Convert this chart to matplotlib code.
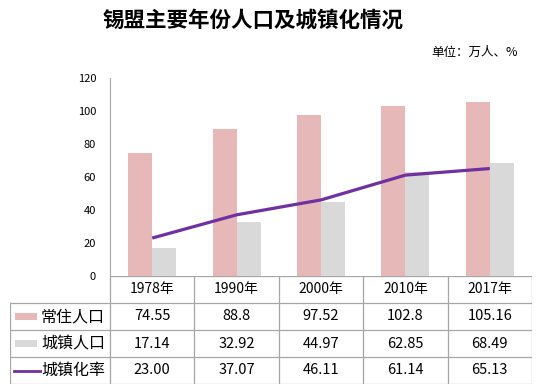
import matplotlib
matplotlib.use("Agg")
import matplotlib.pyplot as plt

plt.rcParams['font.family'] = ['Noto Sans CJK SC', 'DejaVu Sans']

years = ["1978年", "1990年", "2000年", "2010年", "2017年"]
resident = [74.55, 88.8, 97.52, 102.8, 105.16]
urban = [17.14, 32.92, 44.97, 62.85, 68.49]
rate = [23.00, 37.07, 46.11, 61.14, 65.13]
rate_labels = ["23.00", "37.07", "46.11", "61.14", "65.13"]
series_names = ["常住人口", "城镇人口", "城镇化率"]

PINK = "#e6b9b8"
GREY = "#d9d9d9"
PURPLE = "#7030a0"
GRID = "#a6a6a6"

W, H = 547, 389
fig = plt.figure(figsize=(W / 100, H / 100), dpi=100)

# chart area
ax = fig.add_axes([110 / W, 113 / H, 422 / W, 198 / H])
n = len(years)
xs = [i + 0.5 for i in range(n)]
bw = 0.285
ax.bar([x - bw / 2 for x in xs], resident, width=bw, color=PINK)
ax.bar([x + bw / 2 for x in xs], urban, width=bw, color=GREY)
ax.plot(xs, rate, color=PURPLE, lw=2.3, solid_capstyle="butt")
ax.set_xlim(0, n)
ax.set_ylim(0, 120)
ax.set_yticks(range(0, 121, 20))
ax.tick_params(axis="y", length=0, labelsize=8, pad=10)
ax.set_xticks([])
for s in ["top", "right", "bottom"]:
    ax.spines[s].set_visible(False)
ax.spines["left"].set_color(GRID)

# data table under the chart
tx0 = -100 / 84.4
tab = fig.add_axes([10 / W, 5 / H, 522 / W, 108 / H])
tab.set_xlim(tx0, n)
tab.set_ylim(4, 0)
tab.axis("off")
lk = dict(color=GRID, lw=0.9)
tab.plot([0, n], [0, 0], **lk)
for r in range(1, 5):
    tab.plot([tx0, n], [r, r], **lk)
for c in range(n + 1):
    tab.plot([c, c], [0, 4], **lk)
tab.plot([tx0, tx0], [1, 4], **lk)

for i, y in enumerate(years):
    tab.text(i + 0.5, 0.5, y, ha="center", va="center", fontsize=10)
rows = [[str(v) for v in resident], [str(v) for v in urban], rate_labels]
for r, vals in enumerate(rows):
    for i, v in enumerate(vals):
        tab.text(i + 0.5, r + 1.5, v, ha="center", va="center", fontsize=10.5)

# legend keys in the first column
kx0, kx1 = tx0 + 5 / 84.4, tx0 + 27 / 84.4
tab.fill_between([kx0, kx1], 1.38, 1.64, color=PINK, lw=0)
tab.fill_between([kx0, kx1], 2.38, 2.64, color=GREY, lw=0)
tab.plot([tx0 + 4 / 84.4, tx0 + 30 / 84.4], [3.5, 3.5], color=PURPLE, lw=2)
for r, name in enumerate(series_names):
    tab.text(tx0 + 31 / 84.4, r + 1.5, name, ha="left", va="center", fontsize=11.5)

fig.text(253 / W, 1 - 20 / H, "锡盟主要年份人口及城镇化情况", ha="center", va="center",
         fontsize=15.5, fontweight="bold")
fig.text(518 / W, 1 - 52 / H, "单位：万人、%", ha="right", va="center", fontsize=9)

fig.savefig("out.png", dpi=100)
